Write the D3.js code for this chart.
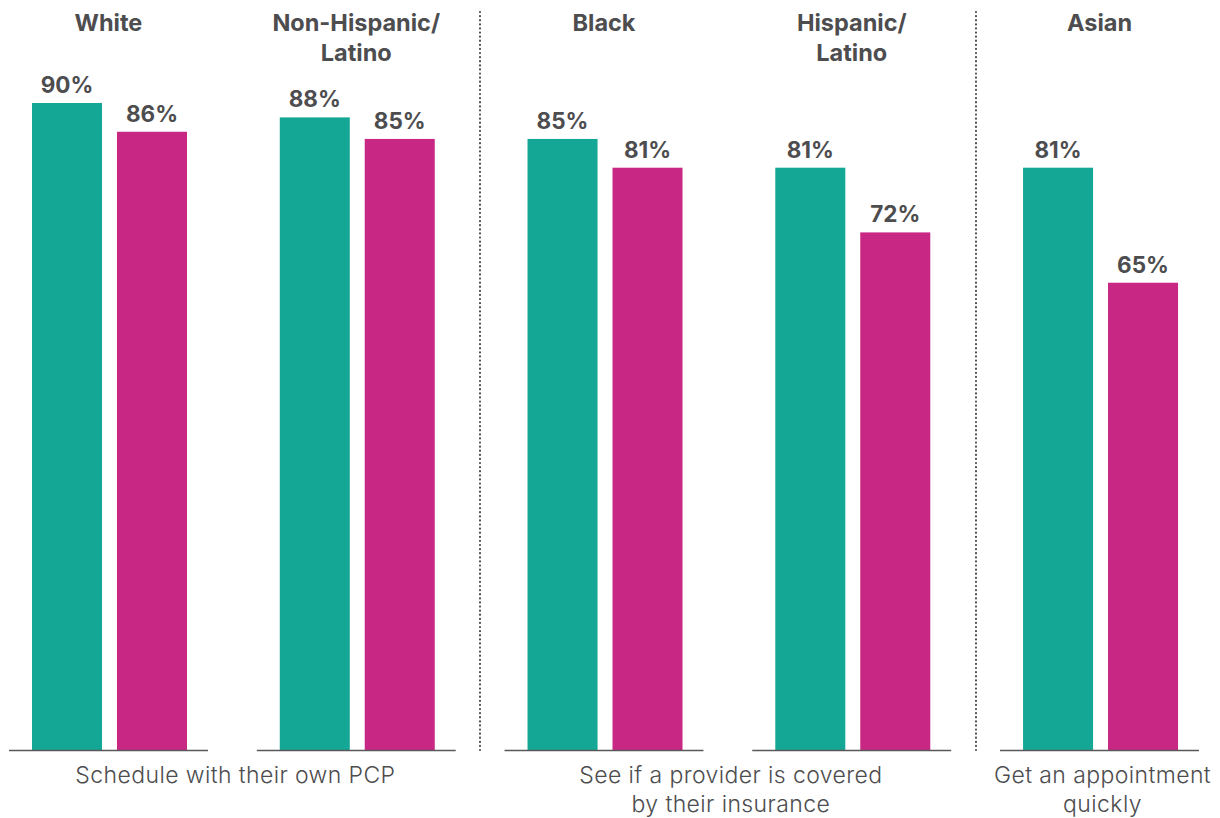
<!DOCTYPE html>
<html>
<head>
<meta charset="utf-8">
<script src="https://cdn.jsdelivr.net/npm/d3@7"></script>
<style>
  html, body { margin: 0; padding: 0; background: #fff; }
  svg { display: block; }
</style>
</head>
<body>
<svg id="chart" width="1220" height="818"></svg>
<script>
// Groups (population segments) and their header lines
const groups = ["White", "Non-Hispanic/Latino", "Black", "Hispanic/Latino", "Asian"];
const groupHeaders = [["White"], ["Non-Hispanic/", "Latino"], ["Black"], ["Hispanic/", "Latino"], ["Asian"]];
// Two measures per group
const seriesKeys = ["first", "second"];
const firstValues = [90, 88, 85, 81, 81];
const secondValues = [86, 85, 81, 72, 65];
// Task labels shown below the baseline, each spanning a set of groups
const taskLabels = [
  { lines: ["Schedule with their own PCP"], span: [0, 1] },
  { lines: ["See if a provider is covered", "by their insurance"], span: [2, 3] },
  { lines: ["Get an appointment", "quickly"], span: [4, 4] }
];
// Dotted separators sit between these group pairs
const separators = [[1, 2], [3, 4]];

const colors = { first: "#15a796", second: "#c82884" };
const textColor = "#4d4d4f";
const font = "Inter, 'Open Sans', sans-serif";

const svg = d3.select("#chart");
const baseY = 750;

const x0 = d3.scaleBand().domain(groups).range([9, 1199]).paddingInner(0.197).paddingOuter(0);
const x1 = d3.scaleBand().domain(seriesKeys).range([23, 178]).paddingInner(0.176).paddingOuter(0);
const y = d3.scaleLinear().domain([0, 90]).range([baseY, 103]);

const data = groups.map((g, i) => ({
  group: g,
  values: [
    { key: "first", value: firstValues[i] },
    { key: "second", value: secondValues[i] }
  ]
}));

// Dotted separators
separators.forEach(([a, b]) => {
  const xa = x0(groups[a]) + x0.bandwidth();
  const xb = x0(groups[b]);
  const xm = Math.round((xa + xb) / 2);
  svg.append("line")
    .attr("x1", xm).attr("x2", xm)
    .attr("y1", 12).attr("y2", baseY)
    .attr("stroke", "#505052")
    .attr("stroke-width", 2.2)
    .attr("stroke-linecap", "round")
    .attr("stroke-dasharray", "0.1 4");
});

const g = svg.selectAll("g.group").data(data).join("g")
  .attr("class", "group")
  .attr("transform", d => `translate(${x0(d.group)},0)`);

g.selectAll("rect").data(d => d.values).join("rect")
  .attr("x", d => x1(d.key))
  .attr("width", x1.bandwidth())
  .attr("y", d => y(d.value))
  .attr("height", d => baseY - y(d.value))
  .attr("fill", d => colors[d.key]);

g.selectAll("text.val").data(d => d.values).join("text")
  .attr("class", "val")
  .attr("x", d => x1(d.key) + x1.bandwidth() / 2)
  .attr("y", d => y(d.value) - 10)
  .attr("text-anchor", "middle")
  .attr("font-family", font)
  .attr("font-weight", 700)
  .attr("font-size", 22.5)
  .attr("fill", textColor)
  .text(d => d.value + "%");

// Baseline segment per group
g.append("line")
  .attr("x1", 0).attr("x2", x0.bandwidth())
  .attr("y1", baseY + 0.5).attr("y2", baseY + 0.5)
  .attr("stroke", "#58585a")
  .attr("stroke-width", 1.5);

// Group headers
g.each(function(d, i) {
  const t = d3.select(this).append("text")
    .attr("text-anchor", "middle")
    .attr("font-family", font)
    .attr("font-weight", 700)
    .attr("font-size", 23.5)
    .attr("fill", textColor);
  groupHeaders[i].forEach((line, j) => {
    t.append("tspan")
      .attr("x", x0.bandwidth() / 2)
      .attr("y", 31 + j * 30)
      .text(line);
  });
});

// Task labels below the baseline
taskLabels.forEach(lbl => {
  const c0 = x0(groups[lbl.span[0]]) + x0.bandwidth() / 2;
  const c1 = x0(groups[lbl.span[1]]) + x0.bandwidth() / 2;
  const t = svg.append("text")
    .attr("text-anchor", "middle")
    .attr("font-family", font)
    .attr("font-weight", 300)
    .attr("font-size", 23)
    .attr("letter-spacing", 0.4)
    .attr("fill", textColor);
  lbl.lines.forEach((line, j) => {
    t.append("tspan")
      .attr("x", (c0 + c1) / 2 + 3)
      .attr("y", 783 + j * 29)
      .text(line);
  });
});
</script>
</body>
</html>
